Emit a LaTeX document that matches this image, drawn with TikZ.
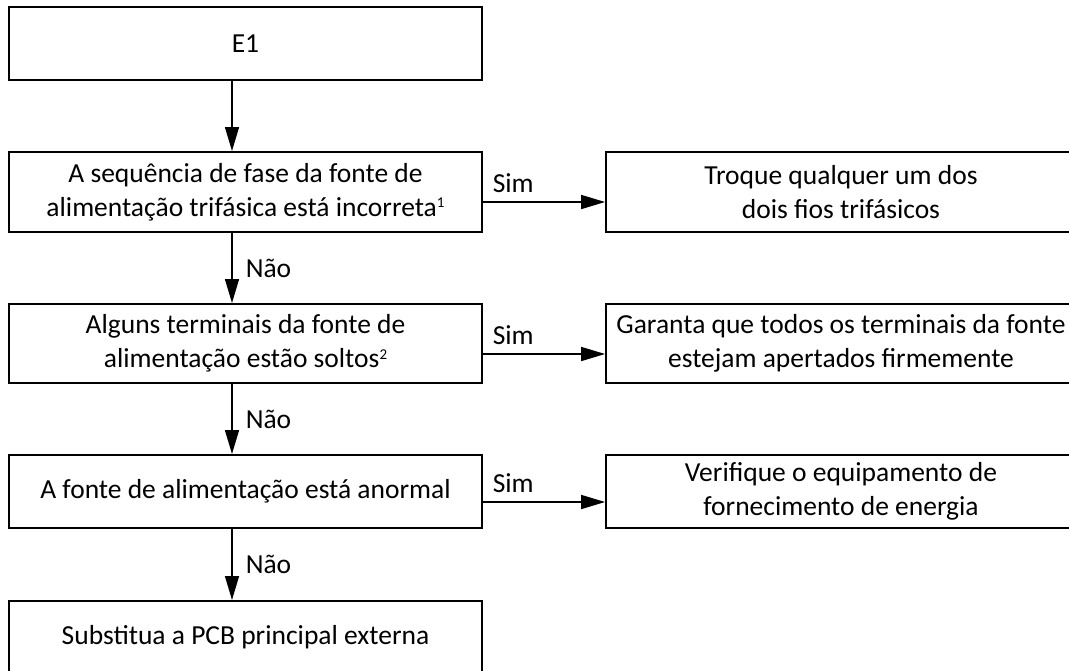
\documentclass[tikz,border=0pt]{standalone}
\usepackage{fontspec}
\setmainfont{Carlito}
\usetikzlibrary{arrows.meta}
\newcommand{\supmark}[1]{\raisebox{8.5pt}{\fontsize{15}{15}\selectfont #1}}
\begin{document}
\begin{tikzpicture}[x=1pt,y=-1pt,
  txt/.style={font=\fontsize{27.5}{34}\selectfont},
  box/.style={draw, line width=2pt, inner sep=0pt, align=center, txt},
  lbox/.style={box, minimum width=473pt},
  rbox/.style={box, line width=1.8pt, minimum width=470pt},
  arr/.style={line width=1.6pt, -{Triangle[length=24pt,width=14pt]}},
  lab/.style={txt, inner sep=0pt}]
\useasboundingbox (0,0) rectangle (1069,670);
\node[lbox, minimum height=73pt] (e1) at (245.5,43.5) {E1};
\node[lbox, minimum height=80pt] (b2) at (245.5,192) {A sequência de fase da fonte de\\alimentação trifásica está incorreta\supmark{1}};
\node[lbox, minimum height=79pt] (b3) at (245.5,343.5) {Alguns terminais da fonte de\\alimentação estão soltos\supmark{2}};
\node[lbox, minimum height=73pt] (b4) at (245.5,491.5) {A fonte de alimentação está anormal};
\node[lbox, minimum height=73pt] (b5) at (245.5,637.5) {Substitua a PCB principal externa};
\node[rbox, minimum height=80pt] (r1) at (841,192) {Troque qualquer um dos\\dois fios trifásicos};
\node[rbox, minimum height=79pt] (r2) at (841,343.5) {Garanta que todos os terminais da fonte\\estejam apertados firmemente};
\node[rbox, minimum height=73pt] (r3) at (841,491.5) {Verifique o equipamento de\\fornecimento de energia};
\draw[arr] ([xshift=-13.5pt]e1.south) -- ([xshift=-13.5pt]b2.north);
\draw[arr] ([xshift=-13.5pt]b2.south) -- ([xshift=-13.5pt]b3.north) node[lab, midway, anchor=west, xshift=13pt]{Não};
\draw[arr] ([xshift=-13.5pt]b3.south) -- ([xshift=-13.5pt]b4.north) node[lab, midway, anchor=west, xshift=13pt]{Não};
\draw[arr] ([xshift=-13.5pt]b4.south) -- ([xshift=-13.5pt]b5.north) node[lab, midway, anchor=west, xshift=13pt]{Não};
\draw[arr] ([yshift=-10pt]b2.east) -- ([yshift=-10pt]r1.west) node[lab, pos=0, anchor=base west, xshift=9pt, yshift=10pt]{Sim};
\draw[arr] ([yshift=-10.5pt]b3.east) -- ([yshift=-10.5pt]r2.west) node[lab, pos=0, anchor=base west, xshift=9pt, yshift=10pt]{Sim};
\draw[arr] ([yshift=-10.5pt]b4.east) -- ([yshift=-10.5pt]r3.west) node[lab, pos=0, anchor=base west, xshift=9pt, yshift=10pt]{Sim};
\end{tikzpicture}
\end{document}
